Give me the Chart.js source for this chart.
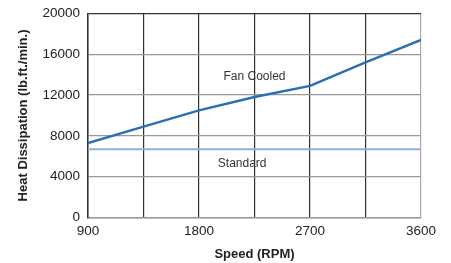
<!DOCTYPE html>
<html>
<head>
<meta charset="utf-8">
<script src="https://cdn.jsdelivr.net/npm/chart.js@4"></script>
<style>
  html, body { margin: 0; padding: 0; background: #fff; }
  #wrap { width: 451px; height: 263px; }
</style>
</head>
<body>
<div id="wrap"><canvas id="heatChart"></canvas></div>
<script>
// Data
const speeds = [900, 1350, 1800, 2250, 2700, 3150, 3600];
const fanCooled = [7300, 8900, 10500, 11800, 12900, 15200, 17400];
const standard = [6700, 6700, 6700, 6700, 6700, 6700, 6700];
const xTickLabels = [900, 1800, 2700, 3600];
const yTickLabels = [0, 4000, 8000, 12000, 16000, 20000];

// In-plot text labels (data coordinates)
const seriesLabels = ['Fan Cooled', 'Standard'];
const labelX = [2250, 2150];
const labelY = [13800, 5250];

const textFont = "'Liberation Sans', Arial, sans-serif";

const labelPlugin = {
    id: 'seriesLabels',
    afterDatasetsDraw(chart) {
        const ctx = chart.ctx;
        const xs = chart.scales.x, ys = chart.scales.y;
        ctx.save();
        ctx.font = '12px ' + textFont;
        ctx.fillStyle = '#333';
        ctx.textAlign = 'center';
        ctx.textBaseline = 'middle';
        seriesLabels.forEach((t, i) => {
            ctx.fillText(t, xs.getPixelForValue(labelX[i]), ys.getPixelForValue(labelY[i]));
        });
        ctx.restore();
    }
};

document.addEventListener('DOMContentLoaded', function() {
    new Chart(document.getElementById('heatChart'), {
        type: 'line',
        data: {
            datasets: [
                {
                    label: 'Standard',
                    data: speeds.map((s, i) => ({ x: s, y: standard[i] })),
                    borderColor: '#8fb0de',
                    borderWidth: 2,
                    pointRadius: 0,
                    tension: 0
                },
                {
                    label: 'Fan Cooled',
                    data: speeds.map((s, i) => ({ x: s, y: fanCooled[i] })),
                    borderColor: '#2a6fb2',
                    borderWidth: 2.5,
                    pointRadius: 0,
                    tension: 0
                }
            ]
        },
        options: {
            responsive: true,
            maintainAspectRatio: false,
            animation: false,
            layout: { padding: { left: 0, right: 30, top: 12.5, bottom: 0 } },
            plugins: {
                legend: { display: false },
                tooltip: { enabled: false }
            },
            scales: {
                x: {
                    type: 'linear',
                    min: 900,
                    max: 3600,
                    afterFit: s => { s.height = 45.5; },
                    ticks: {
                        stepSize: 450,
                        padding: 6,
                        color: '#222',
                        font: { family: textFont, size: 13.5 },
                        maxRotation: 0,
                        autoSkip: false,
                        callback: v => xTickLabels.includes(v) ? String(v) : ''
                    },
                    grid: {
                        drawTicks: false,
                        lineWidth: 1.2,
                        color: c => (c.tick && c.tick.value === 3600) ? '#aaa' : '#333'
                    },
                    border: { color: '#999', width: 1.5 },
                    title: {
                        display: true,
                        text: 'Speed (RPM)',
                        color: '#222',
                        font: { family: textFont, size: 13, weight: 'bold', lineHeight: 1.15 },
                        padding: { top: 0, bottom: 1.5 }
                    }
                },
                y: {
                    min: 0,
                    max: 20000,
                    afterFit: s => { s.width = 88; },
                    ticks: {
                        stepSize: 4000,
                        padding: 8,
                        color: '#222',
                        font: { family: textFont, size: 13.5, lineHeight: 0.8 },
                        callback: v => yTickLabels.includes(v) ? String(v) : ''
                    },
                    grid: {
                        drawTicks: false,
                        lineWidth: 1.2,
                        color: c => (c.tick && c.tick.value === 20000) ? '#333' : '#999'
                    },
                    border: { color: '#333', width: 1.5 },
                    title: {
                        display: true,
                        text: 'Heat Dissipation (lb.ft./min.)',
                        color: '#222',
                        font: { family: textFont, size: 13, weight: 'bold', lineHeight: 1.15 },
                        padding: { top: 15.5, bottom: 0 }
                    }
                }
            }
        },
        plugins: [labelPlugin]
    });
});
</script>
</body>
</html>
